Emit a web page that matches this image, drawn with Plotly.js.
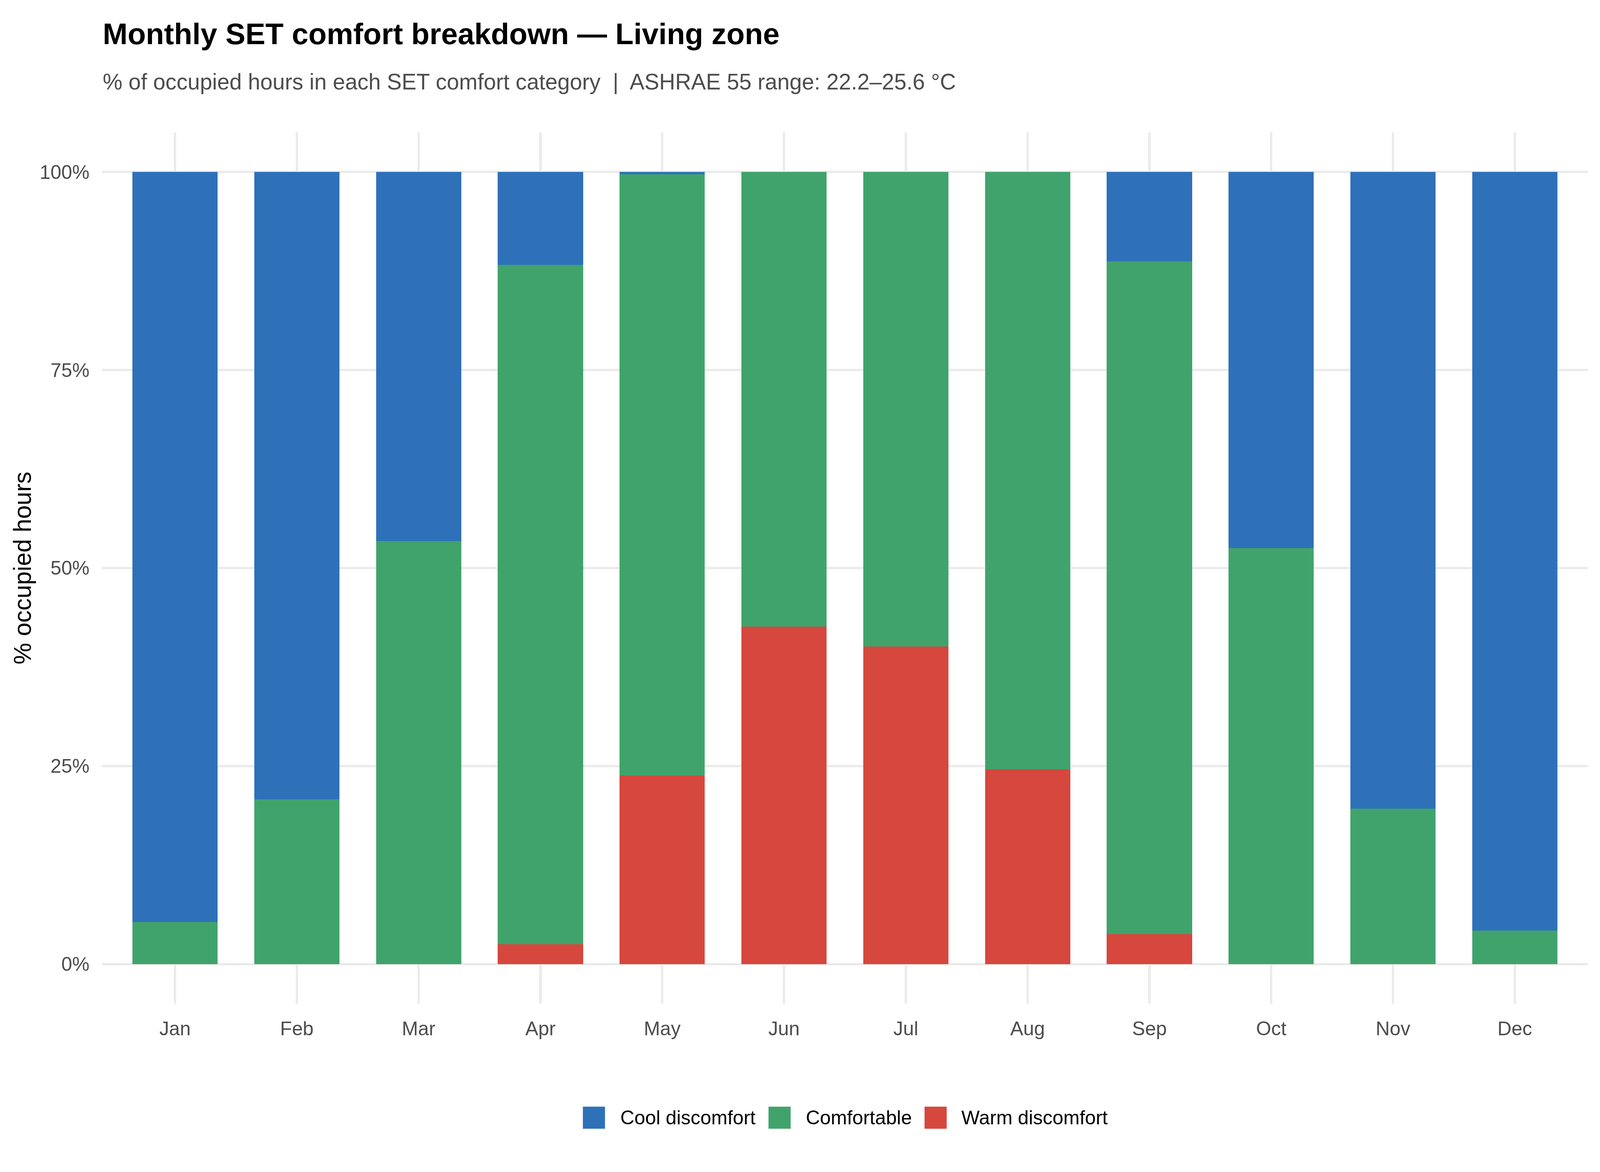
<!DOCTYPE html>
<html>
<head>
<meta charset="utf-8">
<script src="https://cdn.plot.ly/plotly-3.0.1.min.js"></script>
<style>
  html, body { margin: 0; padding: 0; background: #ffffff; overflow: hidden; }
</style>
</head>
<body>
<div id="chart"></div>
<script>
// months on the x axis
var months = ['Jan', 'Feb', 'Mar', 'Apr', 'May', 'Jun', 'Jul', 'Aug', 'Sep', 'Oct', 'Nov', 'Dec'];

// % of occupied hours per SET comfort category
var warmDiscomfort = [0, 0, 0, 2.5, 23.8, 42.6, 40.1, 24.6, 3.8, 0, 0, 0];
var comfortable    = [5.3, 20.8, 53.4, 85.8, 75.9, 57.4, 59.9, 75.4, 84.9, 52.5, 19.6, 4.2];
var coolDiscomfort = [94.7, 79.2, 46.6, 11.7, 0.3, 0, 0, 0, 11.3, 47.5, 80.4, 95.8];

// legend order (top of the stack first) and colours
var categoryNames  = ['Cool discomfort', 'Comfortable', 'Warm discomfort'];
var categoryColors = ['#2E71B9', '#40A36C', '#D6473D'];

var yTicks = [0, 25, 50, 75, 100];
var yTickLabels = ['0%', '25%', '50%', '75%', '100%'];

var FONT = '"Liberation Sans", Arial, "DejaVu Sans", sans-serif';

// The design is laid out for 6000x3000; the window we get may be smaller,
// so every pixel value goes through sx / sy and fonts through fs.
var W = window.innerWidth || 6000;
var H = window.innerHeight || 3000;
var sx = W / 6000, sy = H / 3000, fs = sx;

var M = { l: 383 * sx, r: 46 * sx, t: 339 * sy, b: 431 * sy };
var plotW = W - M.l - M.r;
var plotH = H - M.t - M.b;

// design pixel -> paper coordinate
function px2x(px) { return (px * sx - M.l) / plotW; }
function px2y(py) { return (H - M.b - py * sy) / plotH; }

var tickSize = 73 * fs;

function barTrace(name, values, color) {
    return {
        type: 'bar',
        name: name,
        x: months,
        y: values,
        marker: { color: color, line: { width: 0 } },
        hoverinfo: 'skip',
        showlegend: false
    };
}

// plotly stacks in trace order, so the bottom segment goes first
var traces = [
    barTrace(categoryNames[2], warmDiscomfort, categoryColors[2]),
    barTrace(categoryNames[1], comfortable, categoryColors[1]),
    barTrace(categoryNames[0], coolDiscomfort, categoryColors[0])
];

// hand drawn legend: ggplot style big square keys
var legendKeys = [
    { x0: 2186, textX: 2323 },
    { x0: 2882, textX: 3019 },
    { x0: 3467, textX: 3602 }
];
var keySize = 83 * fs, keyMid = 2861;

var shapes = [];
var annotations = [
    {
        text: '<b>Monthly SET comfort breakdown \u2014 Living zone</b>',
        xref: 'paper', yref: 'paper',
        x: 0, y: px2y(86),
        xanchor: 'left', yanchor: 'middle',
        showarrow: false,
        font: { family: FONT, size: 112 * fs, color: '#000000' }
    },
    {
        text: '% of occupied hours in each SET comfort category  |  ASHRAE 55 range: 22.2\u201325.6 \u00b0C',
        xref: 'paper', yref: 'paper',
        x: 0, y: px2y(210),
        xanchor: 'left', yanchor: 'middle',
        showarrow: false,
        font: { family: FONT, size: 83 * fs, color: '#4D4D4D' }
    },
    {
        text: '% occupied hours',
        textangle: -90,
        xref: 'paper', yref: 'paper',
        x: px2x(84), y: 0.5,
        xanchor: 'center', yanchor: 'middle',
        showarrow: false,
        font: { family: FONT, size: 91 * fs, color: '#000000' }
    }
];

for (var i = 0; i < categoryNames.length; i++) {
    var k = legendKeys[i];
    var kx = px2x(k.x0);
    var ky = px2y(keyMid);
    var half = keySize / 2 / plotH;
    shapes.push({
        type: 'rect',
        xref: 'paper', yref: 'paper',
        x0: kx, x1: kx + keySize / plotW,
        y0: ky - half, y1: ky + half,
        fillcolor: categoryColors[i],
        line: { width: 0 },
        layer: 'above'
    });
    annotations.push({
        text: categoryNames[i],
        xref: 'paper', yref: 'paper',
        x: px2x(k.textX), y: ky,
        xanchor: 'left', yanchor: 'middle',
        showarrow: false,
        font: { family: FONT, size: 73 * fs, color: '#000000' }
    });
}

var layout = {
    width: W,
    height: H,
    margin: M,
    paper_bgcolor: '#ffffff',
    plot_bgcolor: '#ffffff',
    barmode: 'stack',
    bargap: 0.3,
    showlegend: false,
    font: { family: FONT, size: tickSize, color: '#4D4D4D' },
    xaxis: {
        type: 'category',
        range: [-0.6, 11.6],
        showgrid: true,
        gridcolor: '#EBEBEB',
        gridwidth: 9 * fs,
        zeroline: false,
        showline: false,
        ticks: '',
        // standoff has to be a whole number or plotly drops it
        ticklabelstandoff: Math.max(0, Math.round(67 * sy - 0.75 * tickSize)),
        tickfont: { family: FONT, size: tickSize, color: '#4D4D4D' },
        fixedrange: true
    },
    yaxis: {
        range: [-5, 105],
        tickvals: yTicks,
        ticktext: yTickLabels,
        showgrid: true,
        gridcolor: '#EBEBEB',
        gridwidth: 9 * fs,
        zeroline: false,
        showline: false,
        ticks: '',
        ticklabelstandoff: Math.round(45 * sx),
        tickfont: { family: FONT, size: tickSize, color: '#4D4D4D' },
        fixedrange: true
    },
    shapes: shapes,
    annotations: annotations
};

Plotly.newPlot('chart', traces, layout, { displayModeBar: false, staticPlot: true });
</script>
</body>
</html>
